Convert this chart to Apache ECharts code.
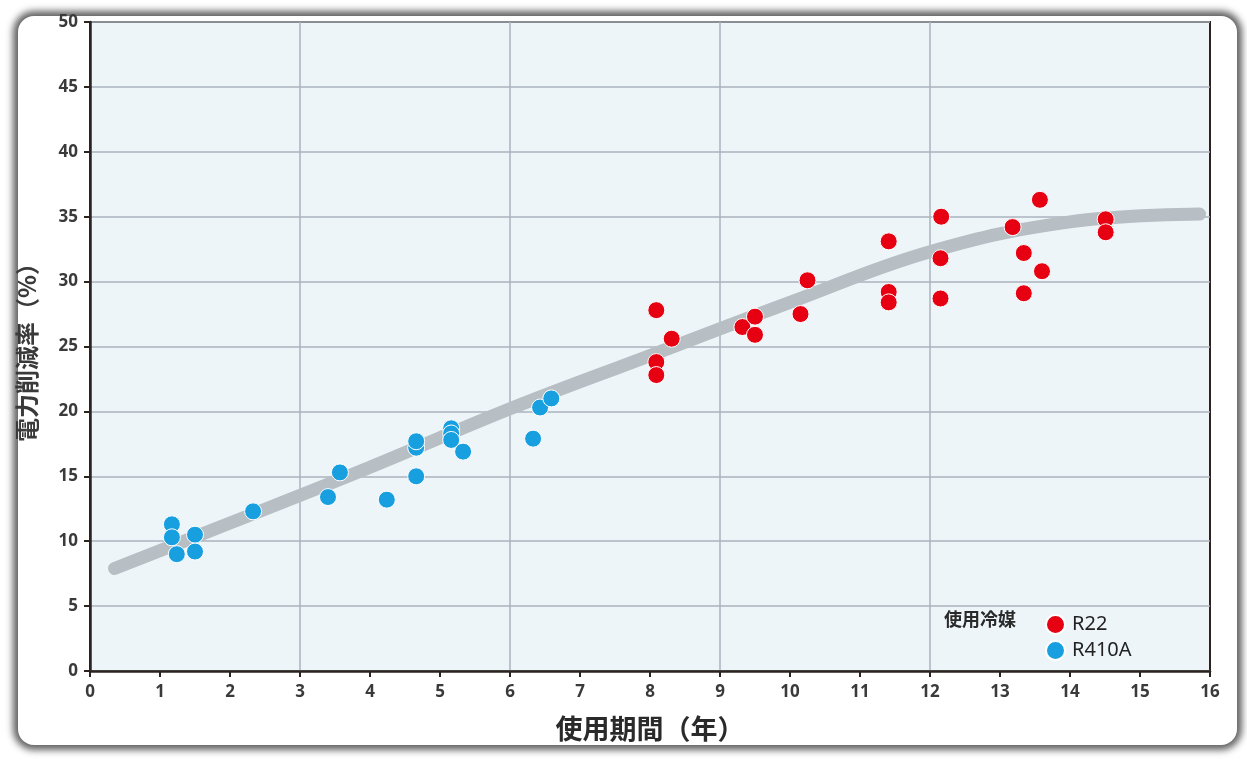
<!DOCTYPE html>
<html><head><meta charset="utf-8">
<script src="https://cdn.jsdelivr.net/npm/echarts@6/dist/echarts.min.js"></script>
<style>
html,body{margin:0;padding:0;background:#fff;width:1247px;height:762px;overflow:hidden;}
#panel{position:absolute;left:18px;top:16px;width:1219px;height:729px;border-radius:16px;background:#fff;
box-shadow:0 0 7px 5px rgba(70,70,70,0.85);}
#chart{position:absolute;left:0;top:0;width:1247px;height:762px;}
</style></head>
<body><div id="panel"></div><div id="chart"></div>
<script>
// R22 (red) points: [years, reduction %]
const r22X = [8.09, 8.31, 8.09, 8.09, 9.32, 9.50, 9.50, 10.15, 10.25, 11.41, 11.41, 11.41, 12.16, 12.15, 12.15, 13.18, 13.57, 13.34, 13.60, 13.34, 14.51, 14.51];
const r22Y = [27.8, 25.6, 23.8, 22.8, 26.5, 27.3, 25.9, 27.5, 30.1, 33.1, 29.2, 28.4, 35.0, 31.8, 28.7, 34.2, 36.3, 32.2, 30.8, 29.1, 34.8, 33.8];
// R410A (blue) points
const r410X = [1.17, 1.17, 1.24, 1.50, 1.50, 2.33, 3.40, 3.57, 4.24, 4.66, 4.66, 4.66, 5.16, 5.16, 5.16, 5.33, 6.33, 6.43, 6.59];
const r410Y = [11.3, 10.3, 9.0, 10.5, 9.2, 12.3, 13.4, 15.3, 13.2, 17.2, 17.7, 15.0, 18.7, 18.3, 17.8, 16.9, 17.9, 20.3, 21.0];
// trend curve
const trendX = [0.35, 2, 4, 6, 8, 10, 12, 14, 15.85];
const trendY = [7.9, 11.4, 15.7, 20.2, 24.3, 28.4, 32.3, 34.6, 35.2];
// vertical grid positions
const vGrid = [3, 6, 9, 12];
const xName = '使用期間（年）';
const yName = '電力削減率（%）';
const legendTitle = '使用冷媒';
const seriesNames = ['R22', 'R410A'];

const zip = (a, b) => a.map((v, i) => [v, b[i]]);
const chart = echarts.init(document.getElementById('chart'), null, {renderer: 'canvas'});
const axisColor = '#2b2320';
const gridColor = '#aab3bc';
chart.setOption({
  backgroundColor: 'transparent',
  animation: false,
  grid: {left: 90, right: 37, top: 22, bottom: 91, show: true, backgroundColor: '#eef5f9', borderColor: axisColor, borderWidth: 2},
  xAxis: {
    type: 'value', min: 0, max: 16, interval: 1,
    name: xName, nameLocation: 'middle', nameGap: 44,
    nameTextStyle: {fontSize: 27, fontWeight: 'bold', color: '#2a2a2a', fontFamily: 'Noto Sans CJK JP'},
    axisLine: {lineStyle: {color: axisColor, width: 2.5}},
    axisTick: {show: true, length: 6, lineStyle: {color: axisColor, width: 2}},
    axisLabel: {fontSize: 17, color: '#3a3a3a', margin: 13, fontWeight: 'bold', fontFamily: 'Noto Sans'},
    splitLine: {show: false}
  },
  yAxis: {
    type: 'value', min: 0, max: 50, interval: 5,
    name: yName, nameLocation: 'middle', nameGap: 51,
    nameTextStyle: {fontSize: 24, fontWeight: 'bold', color: '#3a3a3a', fontFamily: 'Noto Sans CJK JP'},
    axisLine: {show: true, lineStyle: {color: axisColor, width: 2.5}},
    axisTick: {show: true, length: 6, lineStyle: {color: axisColor, width: 2}},
    axisLabel: {fontSize: 17, color: '#3a3a3a', margin: 12, fontWeight: 'bold', fontFamily: 'Noto Sans'},
    splitLine: {show: true, lineStyle: {color: gridColor, width: 1.5}}
  },
  legend: {
    orient: 'vertical', left: 1040, top: 609, itemWidth: 19, itemHeight: 19, itemGap: 5, icon: 'circle',
    data: seriesNames,
    textStyle: {fontSize: 20, color: '#222', fontFamily: 'Noto Sans', padding: [0, 0, 0, 2]}
  },
  graphic: [{
    type: 'text', left: 944, top: 610,
    style: {text: legendTitle, fontSize: 18, fontWeight: 'bold', fill: '#2a2a2a', fontFamily: 'Noto Sans CJK JP'}
  }],
  series: [
    {
      type: 'line', data: zip(trendX, trendY), smooth: 0.4, symbol: 'none', silent: true, z: 1,
      lineStyle: {color: '#b7bec4', width: 13, cap: 'round'},
      markLine: {
        silent: true, symbol: 'none', label: {show: false}, z: 0,
        lineStyle: {color: gridColor, width: 1.5, type: 'solid'},
        data: vGrid.map(v => ({xAxis: v}))
      }
    },
    {
      name: seriesNames[0], type: 'scatter', data: zip(r22X, r22Y), symbolSize: 17, z: 3,
      itemStyle: {color: '#e60012', borderColor: '#ffffff', borderWidth: 1, opacity: 1}
    },
    {
      name: seriesNames[1], type: 'scatter', data: zip(r410X, r410Y), symbolSize: 17, z: 3,
      itemStyle: {color: '#189fe0', borderColor: '#ffffff', borderWidth: 1, opacity: 1}
    }
  ]
});
</script></body></html>
